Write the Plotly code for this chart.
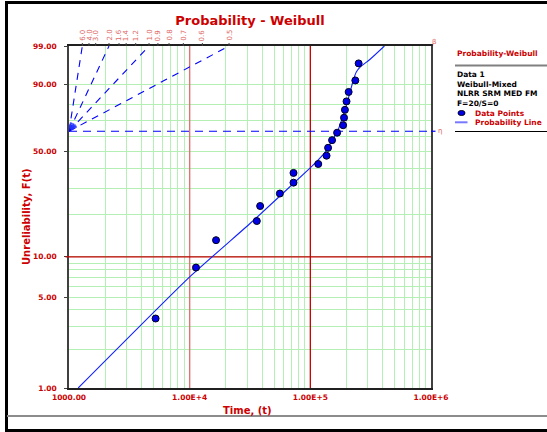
import numpy as np
import plotly.graph_objects as go

# ---------------- data ----------------
time_pts = [5220, 11280, 16540, 36010, 38370, 55920, 72540, 72540, 116300, 136300,
            140300, 151400, 166700, 186900, 190200, 193500, 199500, 207700, 236000, 251400]
unrel_pts = [3.43, 8.33, 13.24, 18.14, 23.04, 27.94, 32.84, 37.75, 42.65, 47.55,
             52.45, 57.35, 62.25, 67.16, 72.06, 76.96, 81.86, 86.76, 91.67, 96.57]

line_time = [1192, 10060, 33560, 99800, 116300, 135600, 152000, 167300, 187700,
             210400, 227200, 240500, 259700, 314500, 411100]
line_unrel = [1.0, 7.12, 18.23, 40.50, 45.06, 50.53, 57.55, 62.79, 73.81,
              85.28, 91.84, 94.45, 95.77, 97.40, 99.0]

x_major = [1e3, 1e4, 1e5, 1e6]
x_major_text = ["1000.00", "1.00E+4", "1.00E+5", "1.00E+6"]
x_minor = [m * 10 ** k for k in (3, 4, 5) for m in range(2, 10)]

y_major = [1, 5, 10, 50, 90, 99]
y_major_text = ["1.00", "5.00", "10.00", "50.00", "90.00", "99.00"]
y_minor = [2, 3, 4, 6, 7, 8, 9, 20, 30, 40, 60, 70, 80]

betas = [6.0, 4.0, 3.0, 2.0, 1.6, 1.4, 1.2, 1.0, 0.9, 0.8, 0.7, 0.6, 0.5]
beta_long = [6.0, 2.0, 1.0, 0.5]
origin_time = 1000.0

legend_lines = ["Data 1", "Weibull-Mixed", "NLRR SRM MED FM", "F=20/S=0"]

# ---------------- styling ----------------
W, H = 547, 432
ML, MR, MT, MB = 69, 116, 46, 44
PW, PH = W - ML - MR, H - MT - MB
RED = "#cc0000"
PINK = "#e06464"
GREEN = "#b4f0b4"
FONT = "DejaVu Sans"


def wb(F):
    F = np.asarray(F, dtype=float) / 100.0
    return np.log(-np.log(1.0 - F))


def xp(px):
    return (px - ML) / PW


def yp(py):
    return (H - MB - py) / PH


u_lo, u_hi = float(wb(1.0)), float(wb(99.0))
u10 = float(wb(10.0))

fig = go.Figure()

# red major lines
fig.add_trace(go.Scatter(x=[1e4, 1e4], y=[u_lo, u_hi], mode="lines",
                         line=dict(color="#e07474", width=1.4), hoverinfo="skip", showlegend=False))
fig.add_trace(go.Scatter(x=[1e5, 1e5], y=[u_lo, u_hi], mode="lines",
                         line=dict(color="#c80000", width=1.3), hoverinfo="skip", showlegend=False))
fig.add_trace(go.Scatter(x=[origin_time, 1e6], y=[u10, u10], mode="lines",
                         line=dict(color="#c00000", width=1.3), hoverinfo="skip", showlegend=False))

# eta dashed line
fig.add_trace(go.Scatter(x=[origin_time, 1e6], y=[0, 0], mode="lines",
                         line=dict(color="#0000ff", width=1.2, dash="8px,6px"),
                         hoverinfo="skip", showlegend=False))

# beta long dashed lines
bx, by = [], []
for b in beta_long:
    bx += [origin_time, origin_time * np.exp(u_hi / b), None]
    by += [0, u_hi, None]
fig.add_trace(go.Scatter(x=bx, y=by, mode="lines",
                         line=dict(color="#0000ff", width=1.1, dash="7px,6px"),
                         hoverinfo="skip", showlegend=False))

# fan of short slope marks near origin
px_dec = PW / 3.0
px_u = PH / (u_hi - u_lo)
fx, fy = [], []
for b in betas:
    k = np.hypot(px_dec, px_u * b * np.log(10))
    d0, d1 = 3 / k, 9 / k
    fx += [origin_time * 10 ** d0, origin_time * 10 ** d1, None]
    fy += [b * np.log(10) * d0, b * np.log(10) * d1, None]
fig.add_trace(go.Scatter(x=fx, y=fy, mode="lines",
                         line=dict(color="#2030ff", width=0.9),
                         hoverinfo="skip", showlegend=False))

# probability line
fig.add_trace(go.Scatter(x=line_time, y=wb(line_unrel), mode="lines",
                         line=dict(color="#1020ff", width=1.1, shape="spline", smoothing=0.5),
                         hoverinfo="skip", showlegend=False))

# data points
fig.add_trace(go.Scatter(x=time_pts, y=wb(unrel_pts), mode="markers",
                         marker=dict(symbol="circle", size=7, color="#0000e6",
                                     line=dict(color="#000022", width=1)),
                         showlegend=False))

# origin marker
fig.add_trace(go.Scatter(x=[origin_time], y=[0], mode="markers", cliponaxis=False,
                         marker=dict(symbol="circle", size=9, color="#0000e6",
                                     line=dict(color="#000033", width=1)),
                         hoverinfo="skip", showlegend=False))

shapes = []
# 10% red line overhang left of axis
shapes.append(dict(type="line", xref="paper", yref="y", x0=xp(65.5), x1=0,
                   y0=u10, y1=u10, line=dict(color="#c00000", width=1.3)))
# top beta ticks
for b in betas:
    t = origin_time * np.exp(u_hi / b)
    shapes.append(dict(type="line", xref="x", x0=t, x1=t, yref="paper",
                       ysizemode="pixel", yanchor=1, y0=0, y1=3,
                       line=dict(color="#444444", width=1)))
# eta extension outside
shapes.append(dict(type="line", xref="paper", yref="y", x0=1, x1=xp(435.5), y0=0, y1=0,
                   line=dict(color="#0000ff", width=1.2)))
# frame
shapes.append(dict(type="line", xref="paper", yref="paper", x0=xp(5), x1=xp(548),
                   y0=yp(2.5), y1=yp(2.5), line=dict(color="#000000", width=3)))
shapes.append(dict(type="line", xref="paper", yref="paper", x0=xp(6.5), x1=xp(6.5),
                   y0=yp(1), y1=yp(433), line=dict(color="#000000", width=3)))
shapes.append(dict(type="line", xref="paper", yref="paper", x0=xp(7), x1=xp(548),
                   y0=yp(416), y1=yp(416), line=dict(color="#8c8c8c", width=2)))
shapes.append(dict(type="line", xref="paper", yref="paper", x0=xp(5), x1=xp(548),
                   y0=yp(430.5), y1=yp(430.5), line=dict(color="#000000", width=3)))
# legend separators
shapes.append(dict(type="line", xref="paper", yref="paper", x0=xp(455), x1=xp(548),
                   y0=yp(65.5), y1=yp(65.5), line=dict(color="#808080", width=2)))
shapes.append(dict(type="line", xref="paper", yref="paper", x0=xp(455), x1=xp(548),
                   y0=yp(131.5), y1=yp(131.5), line=dict(color="#000000", width=1)))
# legend symbols
shapes.append(dict(type="circle", xref="paper", yref="paper", xsizemode="pixel", ysizemode="pixel",
                   xanchor=xp(461.5), yanchor=yp(113), x0=-3.5, x1=3.5, y0=-2.5, y1=2.5,
                   fillcolor="#0000e6", line=dict(color="#000022", width=1)))
shapes.append(dict(type="line", xref="paper", yref="paper", x0=xp(455), x1=xp(467.5),
                   y0=yp(122.3), y1=yp(122.3), line=dict(color="#7878ff", width=2)))

annotations = []
for b in betas:
    t = origin_time * np.exp(u_hi / b)
    annotations.append(dict(x=float(np.log10(t)), xref="x", y=1, yref="paper",
                            text=f"{b:.1f}", showarrow=False, textangle=-90,
                            xanchor="center", yanchor="bottom", yshift=3,
                            font=dict(family=FONT, size=7, color=PINK)))
annotations.append(dict(x=xp(434), y=yp(42), xref="paper", yref="paper", text="β",
                        showarrow=False, xanchor="center", yanchor="middle",
                        font=dict(family=FONT, size=7, color=PINK)))
annotations.append(dict(x=xp(439.5), y=0, xref="paper", yref="y", text="η",
                        showarrow=False, xanchor="center", yanchor="middle",
                        font=dict(family=FONT, size=7, color=PINK)))
annotations.append(dict(x=xp(26), y=0.5, xref="paper", yref="paper",
                        text="<b>Unreliability, F(t)</b>", showarrow=False, textangle=-90,
                        xanchor="center", yanchor="middle",
                        font=dict(family=FONT, size=10, color=RED)))
annotations.append(dict(x=xp(247.5), y=yp(411), xref="paper", yref="paper",
                        text="<b>Time, (t)</b>", showarrow=False,
                        xanchor="center", yanchor="middle",
                        font=dict(family=FONT, size=10, color=RED)))
# legend texts
annotations.append(dict(x=xp(455), y=yp(53), xref="paper", yref="paper",
                        text="<b>Probability-Weibull</b>", showarrow=False,
                        xanchor="left", yanchor="middle",
                        font=dict(family=FONT, size=7.5, color=RED)))
for i, s in enumerate(legend_lines):
    annotations.append(dict(x=xp(455), y=yp(75 + 9.45 * i), xref="paper", yref="paper",
                            text=f"<b>{s}</b>", showarrow=False,
                            xanchor="left", yanchor="middle",
                            font=dict(family=FONT, size=7.5, color="#000000")))
annotations.append(dict(x=xp(473.5), y=yp(113), xref="paper", yref="paper",
                        text="<b>Data Points</b>", showarrow=False,
                        xanchor="left", yanchor="middle",
                        font=dict(family=FONT, size=7.5, color=RED)))
annotations.append(dict(x=xp(473.5), y=yp(122.3), xref="paper", yref="paper",
                        text="<b>Probability Line</b>", showarrow=False,
                        xanchor="left", yanchor="middle",
                        font=dict(family=FONT, size=7.5, color=RED)))

fig.update_layout(
    width=W, height=H,
    margin=dict(l=ML, r=MR, t=MT, b=MB, pad=0),
    paper_bgcolor="white", plot_bgcolor="white",
    showlegend=False,
    title=dict(text="<b>Probability - Weibull</b>", x=0.5, xref="paper", xanchor="center",
               y=1 - 20 / H, yref="container", yanchor="middle",
               font=dict(family=FONT, size=13, color=RED)),
    shapes=shapes, annotations=annotations,
)
fig.update_xaxes(type="log", range=[3, 6], tickvals=x_major, ticktext=x_major_text,
                 showgrid=True, gridcolor=GREEN, gridwidth=1,
                 minor=dict(tickvals=x_minor, showgrid=True, gridcolor=GREEN, gridwidth=1, ticks=""),
                 showline=True, linecolor="#202020", linewidth=1.5, mirror=True,
                 ticks="", ticklabelstandoff=1, zeroline=False,
                 tickfont=dict(family=FONT, size=7.5, color=RED, weight="bold"))
fig.update_yaxes(range=[u_lo, u_hi], tickvals=[float(v) for v in wb(y_major)], ticktext=y_major_text,
                 showgrid=True, gridcolor=GREEN, gridwidth=1,
                 minor=dict(tickvals=[float(v) for v in wb(y_minor)], showgrid=True,
                            gridcolor=GREEN, gridwidth=1, ticks=""),
                 showline=True, linecolor="#404040", linewidth=1.5, mirror=True,
                 ticks="outside", ticklen=3, tickcolor="#404040", ticklabelstandoff=6,
                 zeroline=False,
                 tickfont=dict(family=FONT, size=7.5, color=RED, weight="bold"))

fig.write_html("out.html")
